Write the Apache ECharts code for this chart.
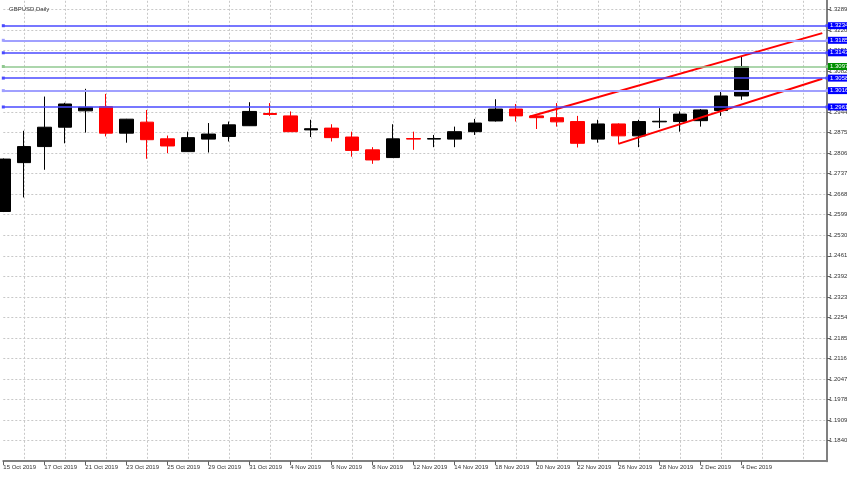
<!DOCTYPE html>
<html>
<head>
<meta charset="utf-8">
<title>GBPUSD,Daily</title>
<script src="https://cdn.jsdelivr.net/npm/echarts@6/dist/echarts.min.js"></script>
<style>
html,body{margin:0;padding:0;background:#fff;}
#main{width:847px;height:478px;}
</style>
</head>
<body>
<div id="main"></div>
<script>
// daily bars
var dates = ['15 Oct 2019','16 Oct 2019','17 Oct 2019','18 Oct 2019','21 Oct 2019','22 Oct 2019','23 Oct 2019','24 Oct 2019','25 Oct 2019',
    '28 Oct 2019','29 Oct 2019','30 Oct 2019','31 Oct 2019','1 Nov 2019','4 Nov 2019','5 Nov 2019','6 Nov 2019','7 Nov 2019','8 Nov 2019',
    '11 Nov 2019','12 Nov 2019','13 Nov 2019','14 Nov 2019','15 Nov 2019','18 Nov 2019','19 Nov 2019','20 Nov 2019','21 Nov 2019','22 Nov 2019',
    '25 Nov 2019','26 Nov 2019','27 Nov 2019','28 Nov 2019','29 Nov 2019','2 Dec 2019','3 Dec 2019','4 Dec 2019'];
var opens  = [1.2610,1.2774,1.2828,1.2893,1.2948,1.2962,1.2873,1.2910,1.2854,1.2811,1.2853,1.2862,1.2898,1.2939,1.2931,1.2884,1.2890,1.2860,1.2817,
    1.2791,1.2855,1.2853,1.2853,1.2878,1.2914,1.2954,1.2931,1.2925,1.2912,1.2853,1.2904,1.2864,1.2911,1.2912,1.2915,1.2949,1.2998];
var closes = [1.2786,1.2828,1.2893,1.2971,1.2960,1.2873,1.2920,1.2851,1.2830,1.2858,1.2870,1.2901,1.2946,1.2936,1.2878,1.2888,1.2858,1.2815,1.2783,
    1.2854,1.2853,1.2855,1.2878,1.2907,1.2954,1.2931,1.2925,1.2911,1.2839,1.2904,1.2864,1.2912,1.2913,1.2937,1.2951,1.2998,1.3097];
var lows   = [1.2608,1.2657,1.2750,1.2839,1.2875,1.2862,1.2841,1.2787,1.2806,1.2810,1.2808,1.2845,1.2897,1.2931,1.2877,1.2860,1.2845,1.2794,1.2770,
    1.2790,1.2817,1.2826,1.2826,1.2867,1.2912,1.2912,1.2887,1.2895,1.2825,1.2841,1.2839,1.2826,1.2890,1.2878,1.2895,1.2931,1.2985];
var highs  = [1.2788,1.2881,1.2996,1.2975,1.3022,1.3005,1.2921,1.2951,1.2865,1.2878,1.2907,1.2912,1.2977,1.2974,1.2946,1.2918,1.2903,1.2878,1.2826,
    1.2903,1.2878,1.2867,1.2895,1.2921,1.2987,1.2971,1.2932,1.2974,1.2931,1.2918,1.2906,1.2918,1.2957,1.2946,1.2954,1.3013,1.3130];

// price scale ticks (right side)
var yMin = 1.1771, yMax = 1.3358, yStep = 0.0069;
var xMax = 40.18;

// horizontal lines and the bid line
var levels = [1.3234, 1.3143, 1.3058, 1.2961];
var lightLevels = [1.3185, 1.3016];
var bidLevel = 1.3097;

// trend channel [bar index, price]
var upperTrend = [[25.7, 1.2929], [39.95, 1.3209]];
var lowerTrend = [[30.0, 1.2837], [39.95, 1.3056]];

var FONT = 'Liberation Sans';

function levelLine(v, color, width, box)
{
    return {
        yAxis: v,
        lineStyle: {color: color, width: width, type: 'solid', opacity: 1},
        label: {show: true, position: 'end', distance: 1, formatter: v.toFixed(4),
            color: '#fff', backgroundColor: box, padding: [1, 2, 0, 2], fontSize: 6, fontFamily: FONT}
    };
}

var candleData = [];
for (var i = 0; i < dates.length; i++) {
    candleData.push([i, opens[i], closes[i], lows[i], highs[i]]);
}
// a date tick every second bar
var dateTicks = [];
for (var i = 0; i < dates.length; i += 2) dateTicks.push(i);

var lineMarks = [];
for (var i = 0; i < lightLevels.length; i++) lineMarks.push(levelLine(lightLevels[i], '#a0a0ff', 2, '#0000ff'));
for (var i = 0; i < levels.length; i++) lineMarks.push(levelLine(levels[i], '#4a4aff', 1.5, '#0000ff'));
lineMarks.push(levelLine(bidLevel, '#90c890', 1.5, '#009000'));

var grid_line = {color: '#c8c8c8', type: [2, 2], width: 1};

var option = {
    animation: false,
    backgroundColor: '#ffffff',
    textStyle: {fontFamily: FONT},
    title: {text: 'GBPUSD,Daily', left: 4, top: 1,
        textStyle: {fontSize: 6, fontWeight: 'normal', color: '#333', fontFamily: FONT}},
    grid: [
        {left: 3.3, right: 20, top: -11.2, bottom: 16.8, containLabel: false, outerBoundsMode: 'none'},
        {left: -17.2, right: 20, top: -11.2, bottom: 16.8, containLabel: false, outerBoundsMode: 'none'}
    ],
    xAxis: [{
        type: 'value', gridIndex: 0, min: 0, max: xMax, interval: 2,
        axisLine: {show: true, onZero: false, lineStyle: {color: '#808080', width: 2}},
        axisTick: {show: true, length: 4, customValues: dateTicks, lineStyle: {color: '#606060'}},
        axisLabel: {fontSize: 6, color: '#333', align: 'left', margin: 3, hideOverlap: false,
            customValues: dateTicks,
            formatter: function(v){ return dates[v] || ''; }},
        splitLine: {show: false}
    }, {
        // only draws the vertical grid between the date ticks
        type: 'value', gridIndex: 1, min: 0, max: xMax + 1, interval: 2,
        axisLine: {show: false}, axisTick: {show: false}, axisLabel: {show: false},
        splitLine: {show: true, lineStyle: grid_line}
    }],
    yAxis: [{
        type: 'value', gridIndex: 0, position: 'right', min: yMin, max: yMax, interval: yStep,
        axisLine: {show: true, onZero: false, lineStyle: {color: '#808080', width: 2}},
        axisTick: {show: true, length: 3, lineStyle: {color: '#606060'}},
        axisLabel: {fontSize: 6, color: '#333', margin: 2, showMinLabel: false, showMaxLabel: false, hideOverlap: false,
            formatter: function(v){ return v.toFixed(4); }},
        splitLine: {show: true, lineStyle: grid_line}
    }, {
        type: 'value', gridIndex: 1, min: 0, max: 1, show: false
    }],
    series: [{
        type: 'candlestick', xAxisIndex: 0, yAxisIndex: 0,
        data: candleData, barWidth: 14,
        itemStyle: {color: '#000000', color0: '#ff0000', borderColor: '#000000', borderColor0: '#ff0000', borderWidth: 1},
        markLine: {silent: true, animation: false, precision: 4, symbol: ['rect', 'rect'], symbolSize: 3,
            lineStyle: {color: '#4a4aff', type: 'solid'}, data: lineMarks},
        z: 3
    }, {
        type: 'line', xAxisIndex: 0, yAxisIndex: 0, data: upperTrend, showSymbol: false, silent: true,
        lineStyle: {color: '#ff0000', width: 2}, z: 4
    }, {
        type: 'line', xAxisIndex: 0, yAxisIndex: 0, data: lowerTrend, showSymbol: false, silent: true,
        lineStyle: {color: '#ff0000', width: 2}, z: 4
    }]
};

var myChart = echarts.init(document.getElementById('main'));
myChart.setOption(option);
</script>
</body>
</html>
